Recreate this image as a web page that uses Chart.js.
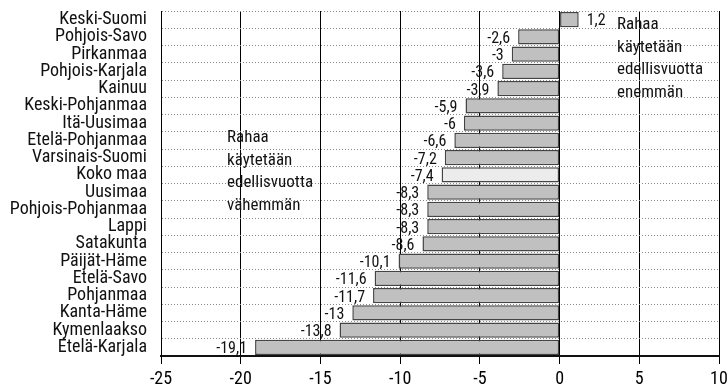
<!DOCTYPE html>
<html>
<head>
<meta charset="utf-8">
<script src="https://cdn.jsdelivr.net/npm/chart.js@4.4.0/dist/chart.umd.min.js"></script>
<style>
  html, body { margin: 0; padding: 0; background: #fff; }
  #wrap { width: 728px; height: 389px; }
</style>
</head>
<body>
<div id="wrap"><canvas id="chart" width="728" height="389"></canvas></div>
<script>
const regions = ['Keski-Suomi', 'Pohjois-Savo', 'Pirkanmaa', 'Pohjois-Karjala', 'Kainuu', 'Keski-Pohjanmaa', 'Itä-Uusimaa', 'Etelä-Pohjanmaa', 'Varsinais-Suomi', 'Koko maa', 'Uusimaa', 'Pohjois-Pohjanmaa', 'Lappi', 'Satakunta', 'Päijät-Häme', 'Etelä-Savo', 'Pohjanmaa', 'Kanta-Häme', 'Kymenlaakso', 'Etelä-Karjala'];
const change = [1.2, -2.6, -3, -3.6, -3.9, -5.9, -6, -6.6, -7.2, -7.4, -8.3, -8.3, -8.3, -8.6, -10.1, -11.6, -11.7, -13, -13.8, -19.1];
const xTicks = [-25, -20, -15, -10, -5, 0, 5, 10];
const noteMore = ['Rahaa', 'käytetään', 'edellisvuotta', 'enemmän'];
const noteLess = ['Rahaa', 'käytetään', 'edellisvuotta', 'vähemmän'];

const FONT = '"Liberation Sans Narrow", "Roboto Condensed", "DejaVu Sans Condensed", "Arial Narrow", sans-serif';

const barLabels = {
    id: 'barLabels',
    afterDatasetsDraw(chart) {
        const ctx = chart.ctx;
        const meta = chart.getDatasetMeta(0);
        ctx.save();
        ctx.font = '16px ' + FONT;
        ctx.fillStyle = '#111';
        ctx.textBaseline = 'middle';
        meta.data.forEach((bar, i) => {
            const v = change[i];
            const txt = String(v).replace('.', ',');
            if (v < 0) {
                ctx.textAlign = 'right';
                ctx.fillText(txt, bar.x - 8, bar.y + 2);
            } else {
                ctx.textAlign = 'left';
                ctx.fillText(txt, bar.x + 8, bar.y + 1);
            }
        });
        // notes
        const xs = chart.scales.x;
        const top = chart.chartArea.top;
        ctx.font = '17px ' + FONT;
        ctx.textAlign = 'left';
        noteMore.forEach((t, i) => ctx.fillText(t, xs.getPixelForValue(3.6), top + 14 + i * 22.5));
        noteLess.forEach((t, i) => ctx.fillText(t, xs.getPixelForValue(-20.86), top + 127 + i * 22.5));
        ctx.restore();
    }
};

new Chart(document.getElementById('chart'), {
    type: 'bar',
    data: {
        labels: regions,
        datasets: [{
            data: change,
            backgroundColor: regions.map(r => r === 'Koko maa' ? '#ececec' : '#c0c0c0'),
            borderColor: '#444',
            borderWidth: 1.5,
            borderSkipped: false,
            barPercentage: 0.87,
            categoryPercentage: 1
        }]
    },
    options: {
        indexAxis: 'y',
        responsive: false,
        animation: false,
        layout: { padding: { top: 11, right: 9, left: 0, bottom: 0 } },
        plugins: {
            legend: { display: false },
            tooltip: { enabled: false }
        },
        scales: {
            x: {
                type: 'linear',
                min: -25,
                max: 10,
                afterBuildTicks: (scale) => { scale.ticks = xTicks.map(v => ({ value: v })); },
                grid: { color: '#000', lineWidth: 1, tickLength: 8, tickColor: '#000' },
                border: { color: '#111', width: 2 },
                ticks: {
                    color: '#000',
                    font: { family: FONT, size: 18 },
                    padding: 5,
                    maxRotation: 0
                },
                afterFit: (scale) => { scale.height = 33; scale.paddingLeft = 0; scale.paddingRight = 0; }
            },
            y: {
                grid: { offset: true, color: '#888', lineWidth: 1, drawTicks: false },
                border: { color: '#000', width: 1, dash: [1, 2] },
                ticks: {
                    color: '#111',
                    font: { family: FONT, size: 18 },
                    padding: 14,
                    autoSkip: false
                },
                afterFit: (scale) => { scale.width = 161; scale.paddingTop = 0; scale.paddingBottom = 0; }
            }
        }
    },
    plugins: [barLabels]
});
</script>
</body>
</html>
